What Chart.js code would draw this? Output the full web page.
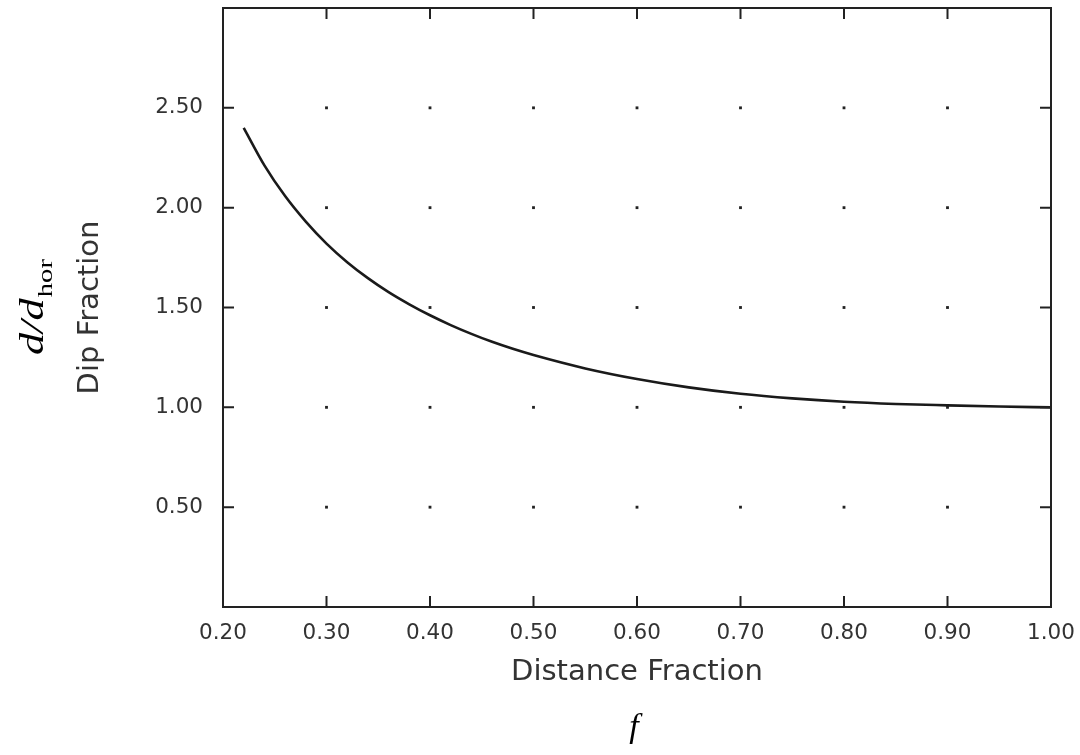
<!DOCTYPE html>
<html>
<head>
<meta charset="utf-8">
<script src="https://cdn.jsdelivr.net/npm/chart.js"></script>
<style>
	html, body { margin: 0; padding: 0; background: #fff; }
	canvas { display: block; }
</style>
</head>
<body>
<canvas id="dipChart" width="1080" height="755"></canvas>
<script>
// Curve: distance fraction f vs dip fraction d/d_hor
const distanceFraction = [0.22, 0.24, 0.26, 0.28, 0.30, 0.32, 0.34, 0.36, 0.38, 0.40, 0.42, 0.44, 0.46, 0.48, 0.50, 0.55, 0.60, 0.65, 0.70, 0.75, 0.80, 0.85, 0.90, 0.95, 1.00];
const dipFraction = [2.40, 2.212, 2.058, 1.930, 1.820, 1.727, 1.647, 1.577, 1.516, 1.461, 1.412, 1.368, 1.328, 1.293, 1.262, 1.195, 1.142, 1.100, 1.068, 1.045, 1.028, 1.017, 1.010, 1.004, 1.00];

// Axis ticks
const xTickValues = [0.20, 0.30, 0.40, 0.50, 0.60, 0.70, 0.80, 0.90, 1.00];
const yTickValues = [0.50, 1.00, 1.50, 2.00, 2.50];

const xTitle = "Distance Fraction";
const yTitle = "Dip Fraction";

const ink = "#222";
const tickFont = { family: "DejaVu Sans", size: 21.5 };

// grid dots sit on the inner tick crossings
const gridDots = [];
xTickValues.filter(v => v > 0.2 && v < 1.0).forEach(x => {
	yTickValues.forEach(y => gridDots.push({ x: x, y: y }));
});

// frame with short inward ticks on all four sides
const frameTicks = {
	id: "frameTicks",
	afterDraw(chart) {
		const ctx = chart.ctx;
		const a = chart.chartArea;
		const xs = chart.scales.x;
		const ys = chart.scales.y;
		const len = 11;
		ctx.save();
		ctx.strokeStyle = ink;
		ctx.lineWidth = 2;
		ctx.strokeRect(a.left, a.top, a.right - a.left, a.bottom - a.top);
		ctx.beginPath();
		xTickValues.forEach(v => {
			const px = xs.getPixelForValue(v);
			ctx.moveTo(px, a.bottom);
			ctx.lineTo(px, a.bottom - len);
			ctx.moveTo(px, a.top);
			ctx.lineTo(px, a.top + len);
		});
		yTickValues.forEach(v => {
			const py = ys.getPixelForValue(v);
			ctx.moveTo(a.left, py);
			ctx.lineTo(a.left + len, py);
			ctx.moveTo(a.right, py);
			ctx.lineTo(a.right - len, py);
		});
		ctx.stroke();
		ctx.restore();
	},
};

// axis titles plus the added math labels
const axisLabels = {
	id: "axisLabels",
	afterDraw(chart) {
		const ctx = chart.ctx;
		const a = chart.chartArea;
		const cx = (a.left + a.right) / 2;
		const cy = (a.top + a.bottom) / 2;
		ctx.save();
		ctx.fillStyle = "#333";
		ctx.textAlign = "center";
		ctx.textBaseline = "alphabetic";
		ctx.font = "29px 'DejaVu Sans'";
		ctx.fillText(xTitle, cx, 680);

		ctx.save();
		ctx.translate(98, cy);
		ctx.rotate(-Math.PI / 2);
		ctx.fillText(yTitle, 0, 0);
		ctx.restore();

		// d/d_hor, rotated and a bit stretched like the original
		ctx.fillStyle = "#000";
		ctx.save();
		ctx.translate(43, 355);
		ctx.rotate(-Math.PI / 2);
		ctx.scale(1.3, 1);
		ctx.textAlign = "left";
		ctx.font = "italic 34px 'Liberation Serif'";
		ctx.fillText("d/d", 0, 0);
		const w = ctx.measureText("d/d").width;
		ctx.font = "22px 'Liberation Serif'";
		ctx.fillText("hor", w + 1, 9);
		ctx.restore();

		ctx.font = "italic 34px 'Liberation Serif'";
		ctx.textAlign = "center";
		ctx.fillText("f", 634, 737);
		ctx.restore();
	},
};

new Chart(document.getElementById("dipChart"), {
	type: "line",
	data: {
		datasets: [
			{
				label: "d/dhor",
				data: distanceFraction.map((f, i) => ({ x: f, y: dipFraction[i] })),
				borderColor: "#1a1a1a",
				borderWidth: 2.6,
				pointRadius: 0,
				cubicInterpolationMode: "monotone",
				fill: false,
			},
			{
				label: "grid",
				data: gridDots,
				showLine: false,
				pointRadius: 2,
				pointStyle: "rect",
				pointBackgroundColor: ink,
				pointBorderWidth: 0,
			},
		],
	},
	options: {
		responsive: false,
		animation: false,
		layout: { padding: { left: 0, top: 8, right: 29, bottom: 0 } },
		plugins: {
			legend: { display: false },
			tooltip: { enabled: false },
		},
		scales: {
			x: {
				type: "linear",
				min: 0.2,
				max: 1.0,
				afterBuildTicks: (scale) => {
					scale.ticks = xTickValues.map(v => ({ value: v }));
				},
				afterFit: (scale) => {
					scale.height = 148;
					scale.paddingLeft = 0;
					scale.paddingRight = 0;
				},
				grid: { display: false, drawTicks: false },
				border: { display: false },
				ticks: {
					padding: 14,
					color: "#333",
					font: tickFont,
					maxRotation: 0,
					autoSkip: false,
					callback: (v) => Number(v).toFixed(2),
				},
			},
			y: {
				type: "linear",
				min: 0,
				max: 3,
				afterBuildTicks: (scale) => {
					scale.ticks = yTickValues.map(v => ({ value: v }));
				},
				afterFit: (scale) => {
					scale.width = 223;
					scale.paddingTop = 0;
					scale.paddingBottom = 0;
				},
				grid: { display: false, drawTicks: false },
				border: { display: false },
				ticks: {
					padding: 20,
					color: "#333",
					font: tickFont,
					autoSkip: false,
					callback: (v) => Number(v).toFixed(2),
				},
			},
		},
	},
	plugins: [frameTicks, axisLabels],
});
</script>
</body>
</html>
